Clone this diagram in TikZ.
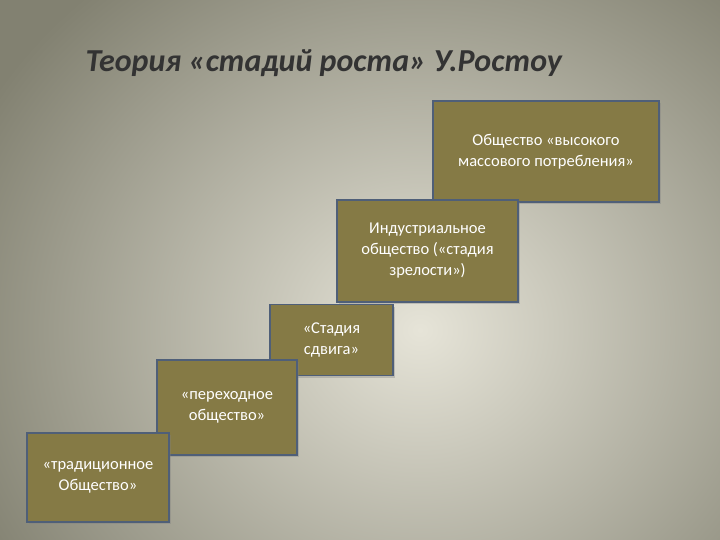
\documentclass[tikz,border=0pt]{standalone}
\usepackage{fontspec}
\setmainfont{Carlito}
\usetikzlibrary{shadows}
\definecolor{boxfill}{HTML}{857A45}
\definecolor{boxline}{HTML}{4F5F78}
\definecolor{bgin}{HTML}{E6E4D8}
\definecolor{bgout}{HTML}{828171}
\begin{document}
\begin{tikzpicture}[x=1pt,y=-1pt,
  stagebox/.style={draw=boxline,line width=1.8pt,fill=boxfill,text=white,
    font=\fontsize{16.5}{21}\selectfont,align=center,inner sep=0pt,
    drop shadow={shadow xshift=2pt,shadow yshift=-2pt,opacity=0.35}}]
\begin{scope}
\clip (0,0) rectangle (720,540);
\shade[inner color=bgin,outer color=bgout] (-80,-120) rectangle (920,780);
\end{scope}
\useasboundingbox (0,0) rectangle (720,540);
\node[anchor=west,text=black!80,font=\fontsize{32}{36}\selectfont\bfseries\itshape] (title) at (82,63) {Теория «стадий роста» У.Ростоу};
\node[stagebox,minimum width=226,minimum height=101] (s5) at (546,151.5) {Общество «высокого\\массового потребления»};
\node[stagebox,minimum width=181,minimum height=102] (s4) at (427.5,251) {Индустриальное\\общество («стадия\\зрелости»)};
\node[stagebox,minimum width=123,minimum height=71] (s3) at (331.5,340) {«Стадия\\сдвига»};
\node[stagebox,minimum width=140,minimum height=95] (s2) at (227,407.5) {«переходное\\общество»};
\node[stagebox,minimum width=142,minimum height=89] (s1) at (98,477.5) {«традиционное\\Общество»};
\end{tikzpicture}
\end{document}
